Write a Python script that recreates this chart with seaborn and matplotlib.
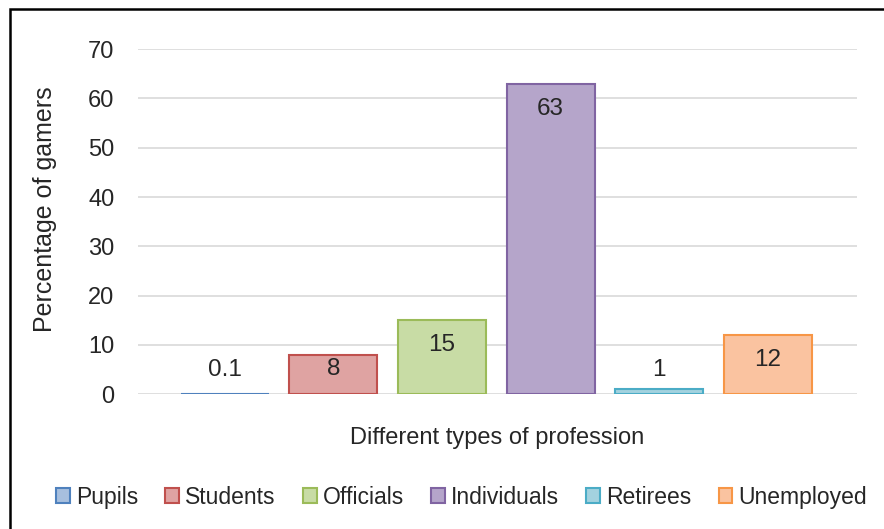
import matplotlib
matplotlib.use("Agg")
import matplotlib.pyplot as plt
import matplotlib.patches as mpatches
import seaborn as sns

categories = ["Pupils", "Students", "Officials", "Individuals", "Retirees", "Unemployed"]
values = [0.1, 8, 15, 63, 1, 12]
labels = ["0.1", "8", "15", "63", "1", "12"]

fills = ["#A7BFDE", "#DFA3A2", "#C8DCA5", "#B5A5CA", "#A3D2DF", "#FAC3A0"]
edges = ["#4F81BD", "#C0504D", "#9BBB59", "#8064A2", "#4BACC6", "#F79646"]

sns.set_style("white")
plt.rcParams["font.family"] = ["Liberation Sans", "DejaVu Sans"]

fig = plt.figure(figsize=(8.84, 5.29), dpi=100)
ax = fig.add_axes([0.156, 0.255, 0.8135, 0.652])

sns.barplot(x=categories, y=values, hue=categories, palette=fills,
            width=0.81, legend=False, ax=ax, saturation=1)

for p, ec in zip(ax.patches, edges):
    p.set_edgecolor(ec)
    p.set_linewidth(1.5)
    p.set_zorder(3)

ax.set_ylim(0, 70)
ax.set_yticks(range(0, 71, 10))
ax.set_xticks([])
ax.set_xlim(-0.8, 5.82)
ax.yaxis.grid(True, color="#D9D9D9", linewidth=1.2, zorder=0)
ax.set_axisbelow(True)
for s in ax.spines.values():
    s.set_visible(False)
ax.tick_params(axis="y", labelsize=17, length=0, pad=17)

ax.set_ylabel("Percentage of gamers", fontsize=18)
ax.yaxis.set_label_coords(-0.112, 0.535)
ax.set_xlabel("Different types of profession", fontsize=17, labelpad=24)

# data labels: inside end for tall bars, above the base for tiny ones
for i, (v, t) in enumerate(zip(values, labels)):
    if v >= 12:
        ax.annotate(t, (i, v), xytext=(0, -18), textcoords="offset points",
                    ha="center", va="center", fontsize=17.5, zorder=5)
    elif v >= 5:
        ax.annotate(t, (i, v), xytext=(0, -10.5), textcoords="offset points",
                    ha="center", va="center", fontsize=17.5, zorder=5)
    else:
        ax.annotate(t, (i, 0), xytext=(0, 17.5), textcoords="offset points",
                    ha="center", va="center", fontsize=17.5, zorder=5)

handles = [mpatches.Patch(facecolor=f, edgecolor=e, linewidth=1.5, label=c)
           for c, f, e in zip(categories, fills, edges)]
fig.legend(handles=handles, loc="center", bbox_to_anchor=(0.522, 0.06), ncol=6,
           frameon=False, fontsize=16.5, handlelength=0.6, handleheight=0.6,
           handletextpad=0.25, columnspacing=1.2)

fig.patches.append(mpatches.Rectangle((0.0115, -0.05), 1.05, 1.033,
                                      transform=fig.transFigure, fill=False,
                                      edgecolor="black", linewidth=1.8))

fig.savefig("out.png", dpi=100)
